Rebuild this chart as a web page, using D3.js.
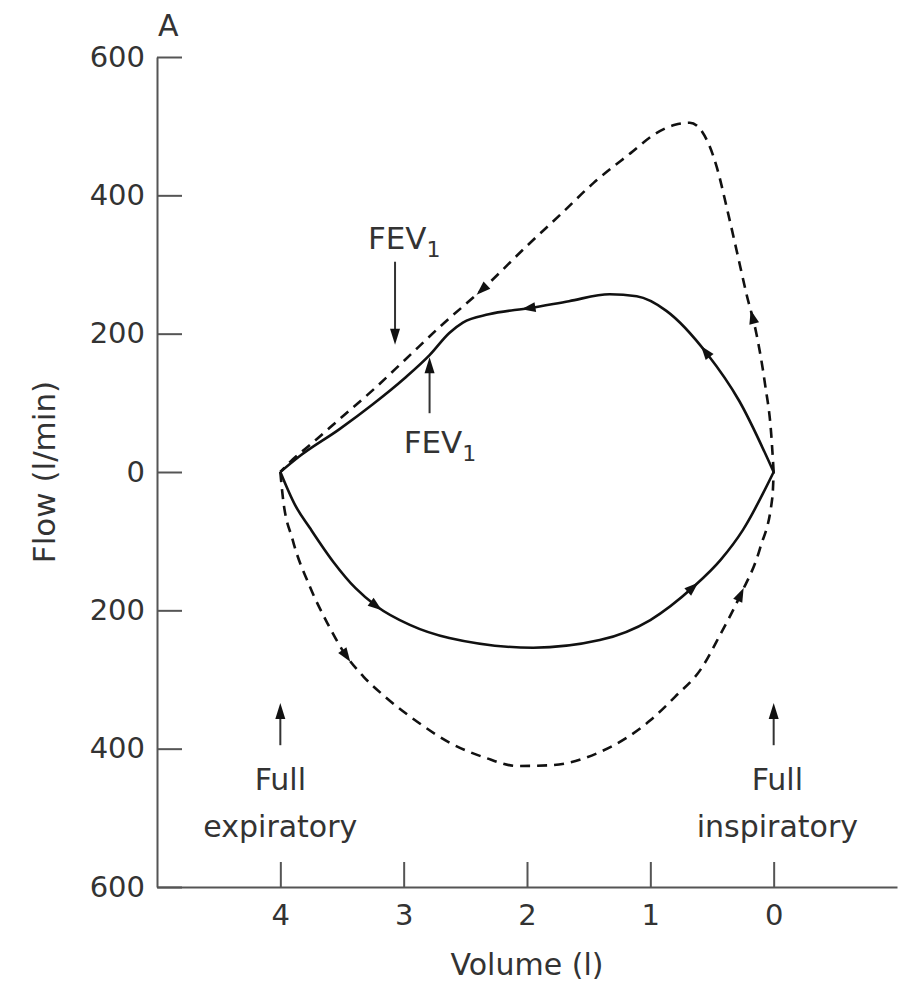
<!DOCTYPE html>
<html><head><meta charset="utf-8">
<script src="https://cdn.jsdelivr.net/npm/d3@7"></script>
<style>body{margin:0;background:#fff}</style>
</head><body>
<svg id="chart" width="902" height="987"></svg>
<script>
// ---- data ----
const volumeTicks = [4, 3, 2, 1, 0];
const flowTicks = [600, 400, 200, 0, -200, -400, -600];

// Normal loop (dashed): expiration from full inspiration (0 l) to full expiration (4 l)
const normalExpVolume = [0, 0.02, 0.07, 0.14, 0.22, 0.30, 0.38, 0.46, 0.58, 0.68, 0.80, 0.96, 1.16, 1.46, 1.73, 2.00, 2.35, 2.70, 2.99, 3.24, 3.51, 3.76, 3.93, 4.0];
const normalExpFlow   = [0, 55, 127, 200, 257, 320, 382, 440, 492, 505, 502, 489, 461, 418, 372, 327, 266, 211, 162, 120, 78, 39, 13, 0];
// Normal loop (dashed): inspiration from 4 l back to 0 l
const normalInsVolume = [4.0, 3.98, 3.90, 3.76, 3.62, 3.48, 3.33, 3.15, 2.89, 2.62, 2.34, 2.08, 1.81, 1.41, 1.00, 0.80, 0.59, 0.43, 0.27, 0.11, 0.01, 0];
const normalInsFlow   = [0, -36, -98, -166, -218, -262, -295, -325, -361, -392, -413, -425, -424, -405, -359, -325, -285, -234, -178, -110, -36, 0];

// Patient loop (solid)
const patientExpVolume = [0, 0.28, 0.54, 0.87, 1.11, 1.33, 1.66, 1.98, 2.31, 2.52, 2.63, 2.79, 2.99, 3.25, 3.52, 3.85, 4.0];
const patientExpFlow   = [0, 103, 171, 233, 254, 257, 247, 237, 228, 216, 201, 169, 136, 98, 62, 22, 0];
const patientInsVolume = [4.0, 3.88, 3.76, 3.57, 3.39, 3.22, 2.95, 2.63, 1.95, 1.41, 1.00, 0.65, 0.43, 0.25, 0];
const patientInsFlow   = [0, -48, -81, -130, -168, -194, -221, -240, -254, -243, -214, -166, -127, -84, 0];

// direction arrows (volume where each arrowhead sits)
const normalExpArrows = [0.17, 2.36];
const normalInsArrows = [3.47, 0.27];
const patientExpArrows = [0.55, 1.98];
const patientInsArrows = [3.23, 0.66];

// ---- layout ----
const svg = d3.select("#chart");
const FONT = "'DejaVu Sans', sans-serif";
const TEXT = "#333";
const x = d3.scaleLinear().domain([5, -1]).range([157, 897]);
const y = d3.scaleLinear().domain([600, -600]).range([57, 887]);

// axes
const yAxis = d3.axisLeft(y).tickValues(flowTicks).tickSize(-25).tickSizeOuter(0).tickPadding(12)
  .tickFormat(d => Math.abs(d));
const xAxis = d3.axisBottom(x).tickValues(volumeTicks).tickSize(-25).tickSizeOuter(0).tickPadding(17)
  .tickFormat(d3.format("d"));

function styleAxis(g) {
  g.selectAll("path.domain").attr("stroke", "#555").attr("stroke-width", 2);
  g.selectAll(".tick line").attr("stroke", "#555").attr("stroke-width", 2);
  g.selectAll(".tick text").attr("fill", TEXT).style("font-family", FONT).style("font-size", "29px");
}
svg.append("g").attr("transform", `translate(${x(5)},0)`).call(yAxis).call(styleAxis);
svg.append("g").attr("transform", `translate(0,${y(-600)})`).call(xAxis).call(styleAxis);

// axis titles
svg.append("text").attr("transform", `translate(55,${y(0)}) rotate(-90)`)
  .attr("text-anchor", "middle").attr("fill", TEXT)
  .style("font-family", FONT).style("font-size", "31px").text("Flow (l/min)");
svg.append("text").attr("x", x(2)).attr("y", 975).attr("text-anchor", "middle").attr("fill", TEXT)
  .style("font-family", FONT).style("font-size", "30px").text("Volume (l)");
svg.append("text").attr("x", x(5) + 1).attr("y", 36).attr("fill", TEXT)
  .style("font-family", FONT).style("font-size", "30px").text("A");

// curves
const line = d3.line().x(d => x(d[0])).y(d => y(d[1])).curve(d3.curveMonotoneX);
const zip = (a, b) => a.map((v, i) => [v, b[i]]);

function drawCurve(vols, flows, dashed, arrows) {
  const path = svg.append("path").datum(zip(vols, flows)).attr("d", line)
    .attr("fill", "none").attr("stroke", "#111").attr("stroke-width", 2.6)
    .attr("stroke-dasharray", dashed ? "10,7" : null)
    .attr("stroke-linejoin", "round");
  const node = path.node();
  const L = node.getTotalLength();
  arrows.forEach(v => {
    const px = x(v);
    let best = 0, bd = Infinity;
    for (let l = 0; l <= L; l += 0.5) {
      const p = node.getPointAtLength(l);
      const dd = Math.abs(p.x - px);
      if (dd < bd) { bd = dd; best = l; }
    }
    const p = node.getPointAtLength(best);
    const p0 = node.getPointAtLength(Math.max(0, best - 2));
    const p1 = node.getPointAtLength(Math.min(L, best + 2));
    const ang = Math.atan2(p1.y - p0.y, p1.x - p0.x) * 180 / Math.PI;
    svg.append("path").attr("d", "M8,0L-6,-5L-6,5Z").attr("fill", "#111")
      .attr("transform", `translate(${p.x},${p.y}) rotate(${ang})`);
  });
}
drawCurve(normalExpVolume, normalExpFlow, true, normalExpArrows);
drawCurve(normalInsVolume, normalInsFlow, true, normalInsArrows);
drawCurve(patientExpVolume, patientExpFlow, false, patientExpArrows);
drawCurve(patientInsVolume, patientInsFlow, false, patientInsArrows);

// annotation arrows
function annArrow(v, fFrom, fTo) {
  const x0 = x(v), y0 = y(fFrom), y1 = y(fTo);
  const dir = Math.sign(y1 - y0);
  svg.append("line").attr("x1", x0).attr("x2", x0).attr("y1", y0).attr("y2", y1 - dir * 12)
    .attr("stroke", "#333").attr("stroke-width", 2);
  svg.append("path").attr("d", `M${x0},${y1}L${x0 - 5},${y1 - dir * 16}L${x0 + 5},${y1 - dir * 16}Z`).attr("fill", "#111");
}
function fevLabel(v, f) {
  const t = svg.append("text").attr("x", x(v)).attr("y", y(f)).attr("fill", TEXT)
    .style("font-family", FONT).style("font-size", "31px");
  t.append("tspan").text("FEV");
  t.append("tspan").attr("dy", 8).style("font-size", "22px").text("1");
}
annArrow(3.07, 304, 184);
fevLabel(3.29, 322);
annArrow(2.79, 85, 166);
fevLabel(3.0, 27);

annArrow(4, -395, -334);
annArrow(0, -395, -334);
function twoLine(v, l1, l2) {
  [[l1, -460], [l2, -528]].forEach(([s, f]) => {
    svg.append("text").attr("x", x(v)).attr("y", y(f)).attr("text-anchor", "middle").attr("fill", TEXT)
      .style("font-family", FONT).style("font-size", "30px").text(s);
  });
}
twoLine(4, "Full", "expiratory");
twoLine(-0.03, "Full", "inspiratory");
</script>
</body></html>
